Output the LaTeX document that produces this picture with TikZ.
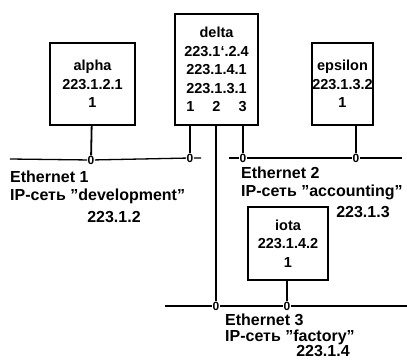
\documentclass[tikz,border=0pt]{standalone}
\usepackage{fontspec}
\setmainfont{Liberation Sans}
\begin{document}
\begin{tikzpicture}[x=1pt, y=-1pt,
  host/.style={rectangle, draw, line width=1.2pt, inner sep=0pt, align=center, font=\bfseries\fontsize{14.5}{18.5}\selectfont},
  port/.style={inner sep=0.3pt, font=\bfseries\fontsize{12}{12}\selectfont},
  stem/.style={line width=1.8pt},
  bus/.style={line width=1.3pt},
  netlabel/.style={inner sep=0pt, font=\bfseries\fontsize{16}{16}\selectfont}
]
\useasboundingbox (0,0) rectangle (407,360);

% Hosts
\node[host, minimum width=85pt, minimum height=82pt] (alpha) at (92.5,84) {alpha\\223.1.2.1\\1};
\node[host, minimum width=83pt, minimum height=111pt] (delta) at (216.5,69.5) {delta\\223.1`.2.4\\223.1.4.1\\223.1.3.1\\1\hspace{18pt}2\hspace{18pt}3};
\node[host, minimum width=61pt, minimum height=82pt] (epsilon) at (342.5,84) {epsilon\\223.1.3.2\\1};
\node[host, minimum width=80pt, minimum height=73pt] (iota) at (288,243.5) {iota\\223.1.4.2\\1};

% Interfaces on the Ethernet segments
\node[port] (alpha-if) at (91,160) {0};
\node[port] (delta-if1) at (190,158) {0};
\node[port] (delta-if3) at (243,158) {0};
\node[port] (epsilon-if) at (356,158) {0};
\node[port] (delta-if2) at (216,306) {0};
\node[port] (iota-if) at (287,306) {0};

% Segment ends
\coordinate (e1-west) at (10,159);
\coordinate (e1-east) at (201,158);
\coordinate (e2-west) at (229,158);
\coordinate (e2-east) at (402,158);
\coordinate (e3-west) at (165,306);
\coordinate (e3-east) at (407,306);

% Ethernet segments
\draw[bus] (e1-west) -- (alpha-if) -- (delta-if1) -- (e1-east);
\draw[bus] (e2-west) -- (delta-if3) -- (epsilon-if) -- (e2-east);
\draw[bus] (e3-west) -- (delta-if2) -- (iota-if) -- (e3-east);

% Host links
\draw[stem] (alpha) -- (alpha-if);
\draw[stem] (delta-if1 |- delta.south) -- (delta-if1);
\draw[stem] (delta-if2 |- delta.south) -- (delta-if2);
\draw[stem] (delta-if3 |- delta.south) -- (delta-if3);
\draw[stem] (epsilon-if |- epsilon.south) -- (epsilon-if);
\draw[stem] (iota-if |- iota.south) -- (iota-if);

% Network labels
\node[netlabel, anchor=west] (e1-name) at (10,177) {Ethernet 1};
\node[netlabel, anchor=west] (e1-ip) at (10,196) {IP-сеть "development"};
\node[netlabel] (e1-addr) at (114,217) {223.1.2};

\node[netlabel, anchor=west] (e2-name) at (241,173) {Ethernet 2};
\node[netlabel, anchor=west] (e2-ip) at (241,192) {IP-сеть "accounting"};
\node[netlabel] (e2-addr) at (363,212) {223.1.3};

\node[netlabel, anchor=west] (e3-name) at (225,320) {Ethernet 3};
\node[netlabel, anchor=west] (e3-ip) at (225,337) {IP-сеть "factory"};
\node[netlabel] (e3-addr) at (323,351) {223.1.4};

\end{tikzpicture}
\end{document}
